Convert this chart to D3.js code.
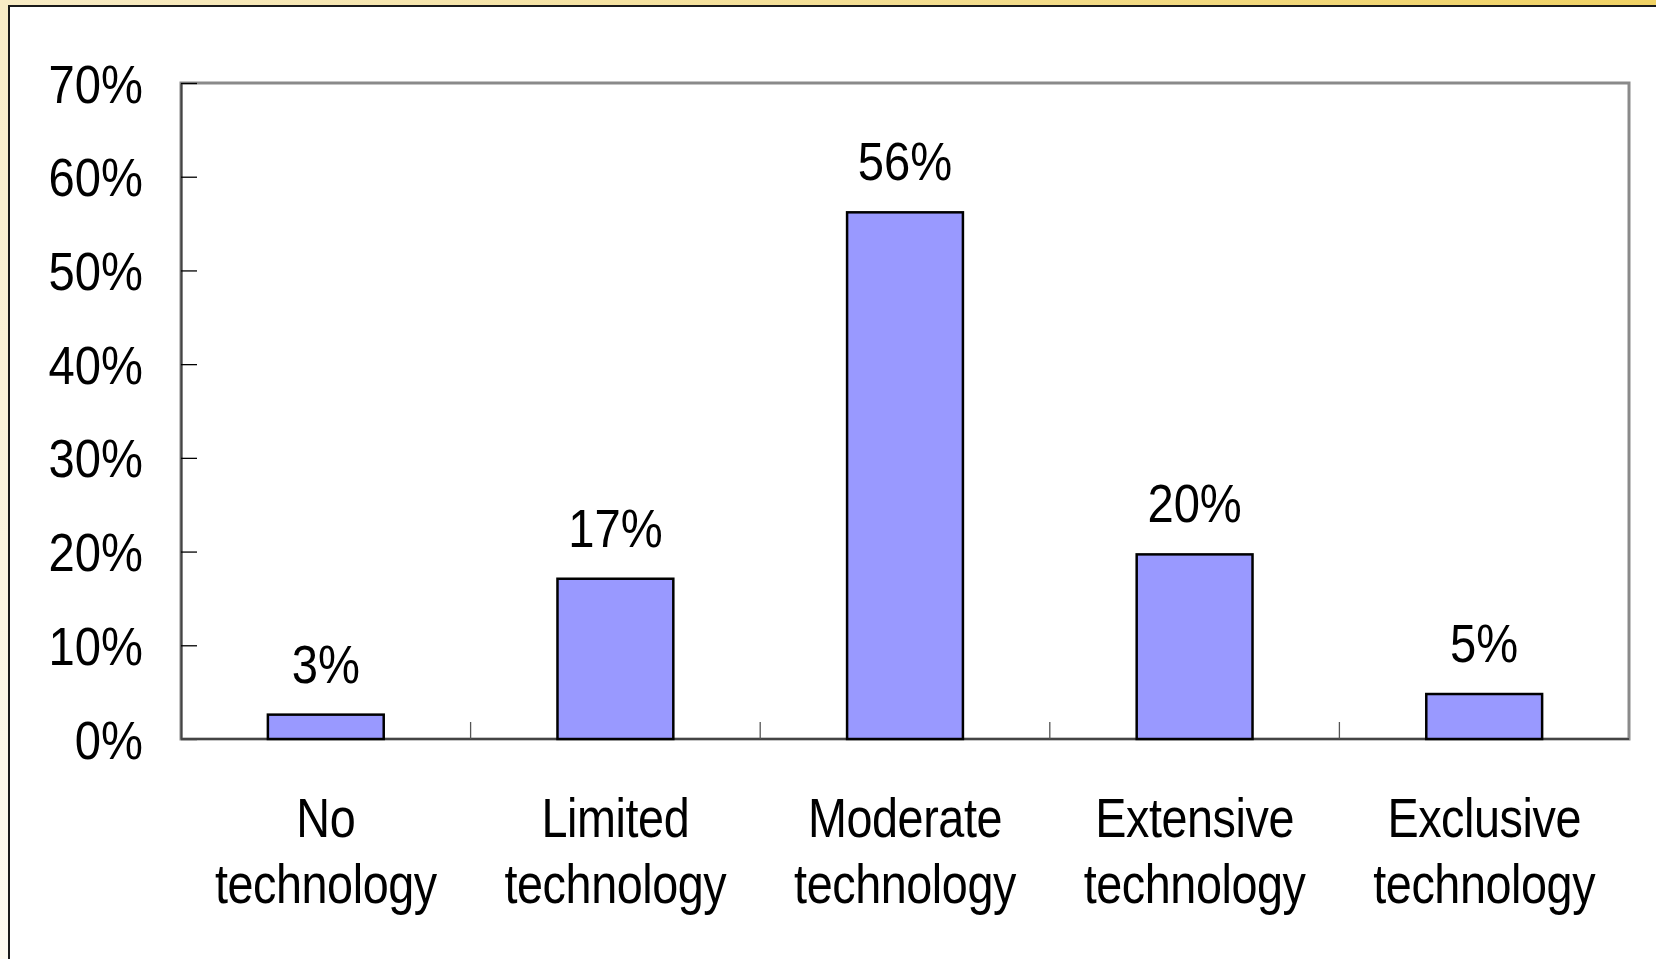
<!DOCTYPE html>
<html>
<head>
<meta charset="utf-8">
<script src="https://cdn.jsdelivr.net/npm/d3@7"></script>
<style>
  html, body { margin: 0; padding: 0; overflow: hidden; }
  svg { display: block; }
  text { font-family: "Liberation Sans", Arial, sans-serif; fill: #000; }
</style>
</head>
<body>
<svg id="chart" width="1656" height="959"></svg>
<script>
// Share of respondents by level of technology use
const categories = ["No technology", "Limited technology", "Moderate technology", "Extensive technology", "Exclusive technology"];
const values = [0.026, 0.171, 0.562, 0.197, 0.048];
const yTicks = [0, 0.1, 0.2, 0.3, 0.4, 0.5, 0.6, 0.7];

const W = 1656, H = 959;
const plot = { left: 181, right: 1629, top: 83, bottom: 739 };

const svg = d3.select("#chart");

// Page background: warm gradient frame behind a white panel
const defs = svg.append("defs");
const gTop = defs.append("linearGradient").attr("id", "frameTop").attr("x1", 0).attr("x2", 1).attr("y1", 0).attr("y2", 0);
gTop.append("stop").attr("offset", 0).attr("stop-color", "#f8ecc6");
gTop.append("stop").attr("offset", 1).attr("stop-color", "#f0d264");
const gLeft = defs.append("linearGradient").attr("id", "frameLeft").attr("x1", 0).attr("x2", 0).attr("y1", 0).attr("y2", 1);
gLeft.append("stop").attr("offset", 0).attr("stop-color", "#f8ecc6");
gLeft.append("stop").attr("offset", 1).attr("stop-color", "#fdfaf1");

svg.append("rect").attr("width", W).attr("height", H).attr("fill", "url(#frameLeft)");
svg.append("rect").attr("width", W).attr("height", 6).attr("fill", "url(#frameTop)");
svg.append("rect").attr("x", 9).attr("y", 6).attr("width", W).attr("height", H)
  .attr("fill", "#fff").attr("stroke", "#1a1a1a").attr("stroke-width", 2);

const x = d3.scaleBand().domain(categories).range([plot.left, plot.right])
  .paddingInner(0.6).paddingOuter(0.3);
const y = d3.scaleLinear().domain([0, 0.7]).range([plot.bottom, plot.top]);
const pct = d3.format(".0%");

// Plot area frame
svg.append("rect")
  .attr("x", plot.left).attr("y", plot.top)
  .attr("width", plot.right - plot.left).attr("height", plot.bottom - plot.top)
  .attr("fill", "none").attr("stroke", "#8a8a8a").attr("stroke-width", 3);

// Y axis with inward ticks
const yAxis = d3.axisLeft(y).tickValues(yTicks).tickFormat(pct).tickSizeInner(-16).tickSizeOuter(0).tickPadding(0);
const gy = svg.append("g").attr("transform", `translate(${plot.left},0)`).call(yAxis);
gy.select(".domain").attr("stroke", "#444").attr("stroke-width", 2);
gy.selectAll(".tick line").attr("stroke", "#000").attr("stroke-width", 1.3);
gy.selectAll(".tick text").remove();
gy.selectAll(".tick").append("text")
  .attr("transform", "translate(-38,0) scale(0.89,1)")
  .attr("text-anchor", "end").attr("dy", "0.36em")
  .attr("font-size", 53)
  .text(d => pct(d));

// X axis baseline with inward category separators
const gx = svg.append("g");
gx.append("line")
  .attr("x1", plot.left).attr("x2", plot.right)
  .attr("y1", plot.bottom).attr("y2", plot.bottom)
  .attr("stroke", "#444").attr("stroke-width", 2);
gx.selectAll("line.sep").data(categories.slice(1)).enter().append("line")
  .attr("class", "sep")
  .attr("x1", d => x(d) - x.step() * x.paddingInner() / 2)
  .attr("x2", d => x(d) - x.step() * x.paddingInner() / 2)
  .attr("y1", plot.bottom).attr("y2", plot.bottom - 17)
  .attr("stroke", "#555").attr("stroke-width", 1.3);

// Bars
svg.append("g").selectAll("rect").data(values).enter().append("rect")
  .attr("x", (d, i) => x(categories[i]))
  .attr("y", d => y(d))
  .attr("width", x.bandwidth())
  .attr("height", d => y(0) - y(d))
  .attr("fill", "#9999ff").attr("stroke", "#000").attr("stroke-width", 2.5);

// Value labels
svg.append("g").selectAll("text").data(values).enter().append("text")
  .attr("transform", (d, i) => `translate(${x(categories[i]) + x.bandwidth() / 2},${y(d) - 32}) scale(0.89,1)`)
  .attr("text-anchor", "middle").attr("font-size", 53)
  .text(d => pct(d));

// Category labels, two lines each
const cl = svg.append("g").selectAll("g").data(categories).enter().append("g")
  .attr("transform", d => `translate(${x(d) + x.bandwidth() / 2},0)`);
cl.each(function (d) {
  const words = d.split(" ");
  d3.select(this).selectAll("text").data(words).enter().append("text")
    .attr("transform", (w, j) => `translate(0,${837 + j * 66}) scale(0.85,1)`)
    .attr("text-anchor", "middle").attr("font-size", 55)
    .attr("letter-spacing", -0.5)
    .text(w => w);
});
</script>
</body>
</html>
